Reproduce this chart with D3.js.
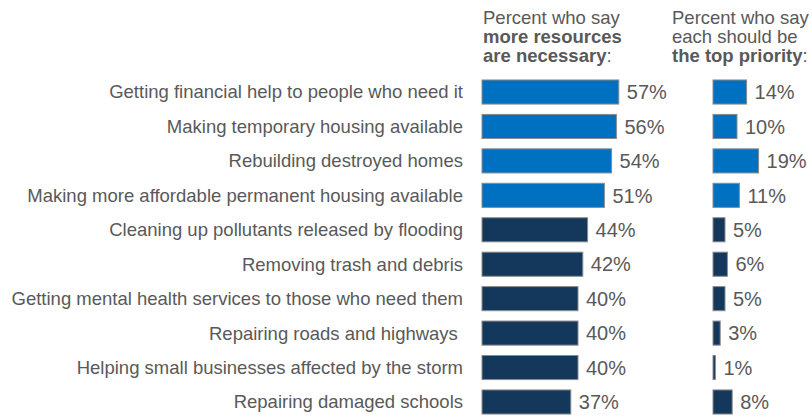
<!DOCTYPE html>
<html><head><meta charset="utf-8">
<script src="https://cdn.jsdelivr.net/npm/d3@7/dist/d3.min.js"></script>
<style>
body{margin:0;background:#fff;}
svg text{font-family:"Liberation Sans",Arial,sans-serif;white-space:pre;}
</style></head>
<body><svg id="c" width="812" height="419"></svg>
<script>
const categories = [
  "Getting financial help to people who need it",
  "Making temporary housing available",
  "Rebuilding destroyed homes",
  "Making more affordable permanent housing available",
  "Cleaning up pollutants released by flooding",
  "Removing trash and debris",
  "Getting mental health services to those who need them",
  "Repairing roads and highways ",
  "Helping small businesses affected by the storm",
  "Repairing damaged schools"
];
const moreResources = [57,56,54,51,44,42,40,40,40,37];
const topPriority = [14,10,19,11,5,6,5,3,1,8];
const highlighted = [true,true,true,true,false,false,false,false,false,false];

const svg = d3.select("#c");
const y = d3.scaleBand().domain(categories).range([74.8,419.2]).paddingInner(0.3).paddingOuter(0.15);
const x1 = d3.scaleLinear().domain([0,100]).range([482,722]);
const x2 = d3.scaleLinear().domain([0,100]).range([713,953]);
const col = i => highlighted[i] ? "#0070C0" : "#13385C";
const txt = "#595959";

// headers
function header(x, l1, l2, l2bold, l3) {
  const t = svg.append("text").attr("x",x).attr("y",24).attr("font-size",18.5).attr("fill",txt);
  t.append("tspan").attr("x",x).attr("dy",0).text(l1);
  const s2 = t.append("tspan").attr("x",x).attr("dy",19).text(l2);
  if (l2bold) s2.attr("font-weight","bold");
  const s3 = t.append("tspan").attr("x",x).attr("dy",19);
  s3.append("tspan").attr("font-weight","bold").text(l3);
  s3.append("tspan").text(":");
}
header(483, "Percent who say", "more resources", true, "are necessary");
header(672, "Percent who say", "each should be", false, "the top priority");

// category labels
svg.append("g").selectAll("text").data(categories).join("text")
  .attr("x",463).attr("y",d=>y(d)+y.bandwidth()/2).attr("dy","0.35em")
  .attr("text-anchor","end").attr("font-size",18.5).attr("fill",txt).text(d=>d);

function drawBars(vals, x) {
  const g = svg.append("g");
  g.selectAll("rect").data(vals).join("rect")
    .attr("x",x(0)).attr("y",(d,i)=>y(categories[i]))
    .attr("width",d=>x(d)-x(0)).attr("height",y.bandwidth())
    .attr("fill",(d,i)=>col(i)).attr("stroke","#8c8c8c").attr("stroke-width",1);
  g.selectAll("text").data(vals).join("text")
    .attr("x",d=>x(d)+8).attr("y",(d,i)=>y(categories[i])+y.bandwidth()/2).attr("dy","0.36em")
    .attr("font-size",20).attr("fill",txt).text(d=>d+"%");
}
drawBars(moreResources, x1);
drawBars(topPriority, x2);
</script></body></html>
